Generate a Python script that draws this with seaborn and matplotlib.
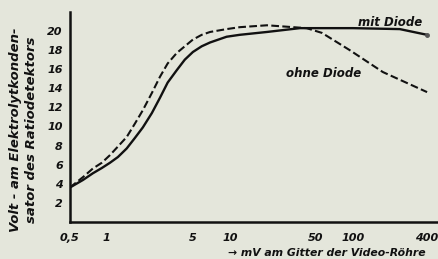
import pandas as pd
import matplotlib.pyplot as plt
import seaborn as sns

# values (x = mV, y = Volt)
x_mit = [0.5, 0.64, 0.77, 0.91, 1.06, 1.23, 1.45, 1.69, 1.96, 2.32, 2.7, 3.12, 3.7, 4.3, 5, 5.9,
         6.9, 9.4, 12, 20, 37, 100, 240, 400]
y_mit = [3.6, 4.4, 5.1, 5.65, 6.2, 6.8, 7.7, 8.8, 9.9, 11.4, 13.0, 14.6, 15.9, 17.0, 17.8, 18.4,
         18.8, 19.4, 19.6, 19.9, 20.3, 20.3, 20.2, 19.6]
x_ohne = [0.5, 0.64, 0.77, 0.91, 1.06, 1.23, 1.45, 1.69, 1.96, 2.32, 2.7, 3.12, 3.7, 4.3, 5, 5.9,
          6.9, 9.4, 12, 20, 42, 56, 94, 175, 400]
y_ohne = [3.6, 4.7, 5.6, 6.2, 7.0, 7.9, 8.9, 10.3, 11.7, 13.5, 15.2, 16.6, 17.7, 18.4, 19.1, 19.6,
          19.9, 20.2, 20.4, 20.6, 20.3, 19.8, 18.0, 15.7, 13.6]

x_ticks = [0.5, 1, 5, 10, 50, 100, 400]
x_labels = ["0,5", "1", "5", "10", "50", "100", "400"]
y_ticks = [2, 4, 6, 8, 10, 12, 14, 16, 18, 20]

df_mit = pd.DataFrame({"mV": x_mit, "Volt": y_mit})
df_ohne = pd.DataFrame({"mV": x_ohne, "Volt": y_ohne})

sns.set_style("white")
plt.rcParams["font.family"] = ["DejaVu Sans"]
bg = "#e4e6db"
ink = "#111111"

fig = plt.figure(figsize=(4.39, 2.59), dpi=100, facecolor=bg)
ax = fig.add_axes([0.159, 0.143, 0.841, 0.811], facecolor=bg)

sns.lineplot(data=df_mit, x="mV", y="Volt", ax=ax, color=ink, lw=1.7, sort=False)
sns.lineplot(data=df_ohne, x="mV", y="Volt", ax=ax, color=ink, lw=1.5,
             dashes=(4, 2), linestyle="--", sort=False)
ax.plot(x_mit[-1:], y_mit[-1:], "o", color="#555555", ms=2.5)

ax.set_xscale("log")
ax.set_xlim(0.5, 500)
ax.set_ylim(0, 22)
ax.set_xticks(x_ticks)
ax.set_xticklabels(x_labels)
ax.minorticks_off()
ax.set_yticks(y_ticks)
ax.set_xlabel("")
ax.set_ylabel("")

for side in ["top", "right"]:
    ax.spines[side].set_visible(False)
for side in ["left", "bottom"]:
    ax.spines[side].set_linewidth(1.8)
    ax.spines[side].set_color(ink)

ax.tick_params(axis="y", direction="in", length=3, width=1, pad=5, colors=ink)
ax.tick_params(axis="x", direction="in", length=3, width=1, pad=8, colors=ink)
for lab in ax.get_xticklabels() + ax.get_yticklabels():
    lab.set_fontsize(8)
    lab.set_fontweight("bold")
    lab.set_fontstyle("italic")

curve_font = dict(fontsize=8.5, fontweight="bold", fontstyle="italic")
ylab_font = dict(fontsize=9.5, fontweight="bold", fontstyle="italic")
xlab_font = dict(fontsize=7.8, fontweight="bold", fontstyle="italic")

ax.text(0.78, 0.95, "mit Diode", transform=ax.transAxes, ha="left", va="center", color=ink, **curve_font)
ax.text(0.585, 0.705, "ohne Diode", transform=ax.transAxes, ha="left", va="center", color=ink, **curve_font)

fig.text(0.035, 0.5, "Volt - am Elektrolytkonden-", rotation=90, ha="center", va="center",
         color=ink, **ylab_font)
fig.text(0.072, 0.5, "sator des Ratiodetektors", rotation=90, ha="center", va="center",
         color=ink, **ylab_font)
fig.text(0.745, 0.025, "\u2192 mV am Gitter der Video-Röhre", ha="center", va="center",
         color=ink, **xlab_font)

fig.savefig("out.png", dpi=100, facecolor=bg)
